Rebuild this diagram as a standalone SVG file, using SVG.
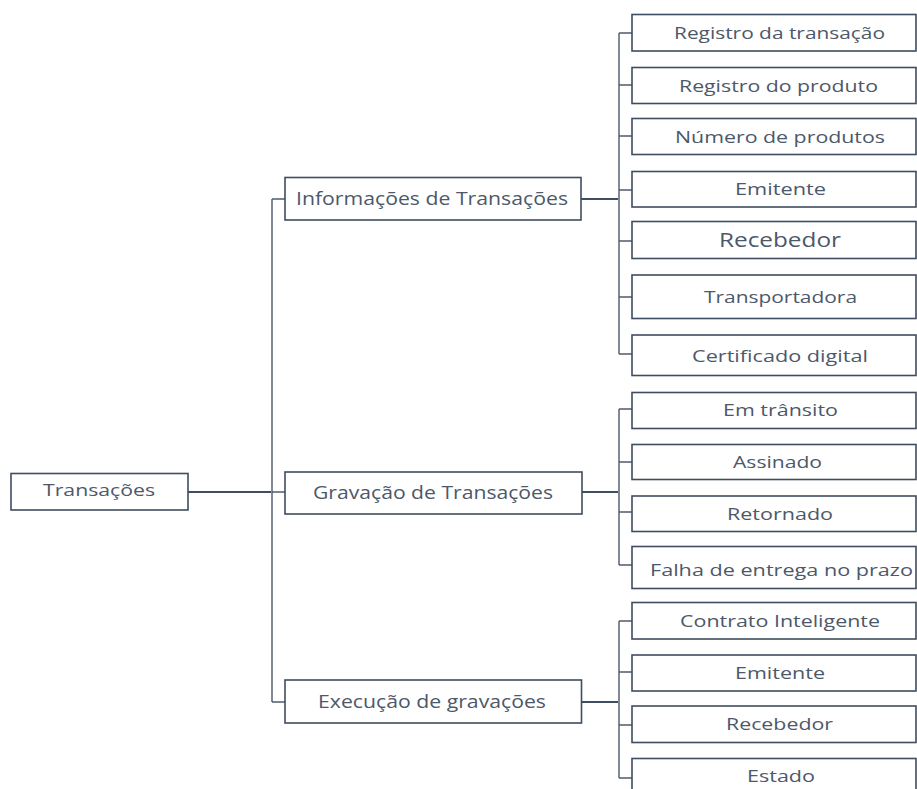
<svg xmlns="http://www.w3.org/2000/svg" width="917" height="789" viewBox="0 0 917 789">
  <style>
    .box { fill: #ffffff; stroke: #3f4d60; stroke-width: 1.6; }
    .lbl { font-family: "Open Sans", "Noto Sans", "DejaVu Sans", sans-serif; fill: #4d5869; }
    .l1 { font-size: 16px; }
    .l2 { font-size: 17.5px; }
    .l3 { font-size: 17px; }
    .big { font-size: 19.5px; }
    .link { fill: none; stroke: #3f4d60; stroke-width: 2; }
    .bus { fill: none; stroke: #808995; stroke-width: 2; }
    .stub { fill: none; stroke: #4f5b6c; stroke-width: 1.5; }
  </style>
  <rect width="917" height="789" fill="#ffffff"/>

  <!-- connectors -->
  <g id="connectors">
    <!-- root to second level -->
    <path class="link" d="M188 492 H272"/>
    <path class="bus" d="M272 199 V702"/>
    <path class="stub" d="M272 199 H285 M272 492 H285 M272 702 H285"/>

    <!-- Informações de Transações -->
    <path class="link" d="M581 199 H619"/>
    <path class="bus" d="M619 33 V354"/>
    <path class="stub" d="M619 33 H632 M619 85 H632 M619 136 H632 M619 190 H632 M619 241 H632 M619 297 H632 M619 354 H632"/>

    <!-- Gravação de Transações -->
    <path class="link" d="M582 492 H619"/>
    <path class="bus" d="M619 409 V565"/>
    <path class="stub" d="M619 409 H632 M619 462 H632 M619 512 H632 M619 565 H632"/>

    <!-- Execução de gravações -->
    <path class="link" d="M581 702 H619"/>
    <path class="bus" d="M619 621 V778"/>
    <path class="stub" d="M619 621 H632 M619 672 H632 M619 725 H632 M619 778 H632"/>
  </g>

  <!-- root -->
  <g id="transacoes">
    <rect class="box" x="11" y="473.5" width="177" height="36.5"/>
    <text class="lbl l1" x="43" y="496" textLength="112" lengthAdjust="spacingAndGlyphs">Transações</text>
  </g>

  <!-- second level -->
  <g id="informacoes">
    <rect class="box" x="285" y="177.5" width="296" height="42.5"/>
    <text class="lbl l2" x="296" y="205" textLength="272" lengthAdjust="spacingAndGlyphs">Informações de Transações</text>
  </g>
  <g id="gravacao">
    <rect class="box" x="285" y="472" width="297" height="42"/>
    <text class="lbl l2" x="313" y="499" textLength="240" lengthAdjust="spacingAndGlyphs">Gravação de Transações</text>
  </g>
  <g id="execucao">
    <rect class="box" x="285" y="680" width="296.5" height="43"/>
    <text class="lbl l2" x="318" y="708" textLength="228" lengthAdjust="spacingAndGlyphs">Execução de gravações</text>
  </g>

  <!-- Informações de Transações children -->
  <g id="registro-transacao">
    <rect class="box" x="632" y="14.5" width="284" height="36.5"/>
    <text class="lbl l3" x="674" y="39" textLength="211" lengthAdjust="spacingAndGlyphs">Registro da transação</text>
  </g>
  <g id="registro-produto">
    <rect class="box" x="632" y="67.5" width="284" height="36"/>
    <text class="lbl l3" x="679" y="91.5" textLength="199" lengthAdjust="spacingAndGlyphs">Registro do produto</text>
  </g>
  <g id="numero-produtos">
    <rect class="box" x="632" y="118.5" width="284" height="36"/>
    <text class="lbl l3" x="675" y="142.5" textLength="210" lengthAdjust="spacingAndGlyphs">Número de produtos</text>
  </g>
  <g id="emitente-1">
    <rect class="box" x="632" y="171.5" width="284" height="35.5"/>
    <text class="lbl l3" x="735" y="195" textLength="91" lengthAdjust="spacingAndGlyphs">Emitente</text>
  </g>
  <g id="recebedor-1">
    <rect class="box" x="632" y="221.5" width="284" height="37"/>
    <text class="lbl big" x="719" y="246.5" textLength="122" lengthAdjust="spacingAndGlyphs">Recebedor</text>
  </g>
  <g id="transportadora">
    <rect class="box" x="632" y="275" width="284" height="43.5"/>
    <text class="lbl l3" x="704" y="302.5" textLength="153" lengthAdjust="spacingAndGlyphs">Transportadora</text>
  </g>
  <g id="certificado">
    <rect class="box" x="632" y="335" width="284" height="40.5"/>
    <text class="lbl l3" x="692" y="361.5" textLength="176" lengthAdjust="spacingAndGlyphs">Certificado digital</text>
  </g>

  <!-- Gravação de Transações children -->
  <g id="em-transito">
    <rect class="box" x="632" y="392.5" width="284" height="36"/>
    <text class="lbl l3" x="723" y="416" textLength="115" lengthAdjust="spacingAndGlyphs">Em trânsito</text>
  </g>
  <g id="assinado">
    <rect class="box" x="632" y="444.5" width="284" height="35"/>
    <text class="lbl l3" x="733" y="467.5" textLength="89" lengthAdjust="spacingAndGlyphs">Assinado</text>
  </g>
  <g id="retornado">
    <rect class="box" x="632" y="496" width="284" height="35.5"/>
    <text class="lbl l3" x="727" y="519.5" textLength="106" lengthAdjust="spacingAndGlyphs">Retornado</text>
  </g>
  <g id="falha-entrega">
    <rect class="box" x="632" y="546.5" width="284" height="42"/>
    <text class="lbl l3" x="650" y="576" textLength="263" lengthAdjust="spacingAndGlyphs">Falha de entrega no prazo</text>
  </g>

  <!-- Execução de gravações children -->
  <g id="contrato">
    <rect class="box" x="632" y="602.5" width="284" height="36.5"/>
    <text class="lbl l3" x="680" y="626.5" textLength="200" lengthAdjust="spacingAndGlyphs">Contrato Inteligente</text>
  </g>
  <g id="emitente-2">
    <rect class="box" x="632" y="655" width="284" height="36"/>
    <text class="lbl l3" x="735" y="679" textLength="90" lengthAdjust="spacingAndGlyphs">Emitente</text>
  </g>
  <g id="recebedor-2">
    <rect class="box" x="632" y="706" width="284" height="36.5"/>
    <text class="lbl l3" x="726" y="730" textLength="107" lengthAdjust="spacingAndGlyphs">Recebedor</text>
  </g>
  <g id="estado">
    <rect class="box" x="632" y="758.5" width="284" height="45"/>
    <text class="lbl l3" x="747" y="781.5" textLength="68" lengthAdjust="spacingAndGlyphs">Estado</text>
  </g>
</svg>
